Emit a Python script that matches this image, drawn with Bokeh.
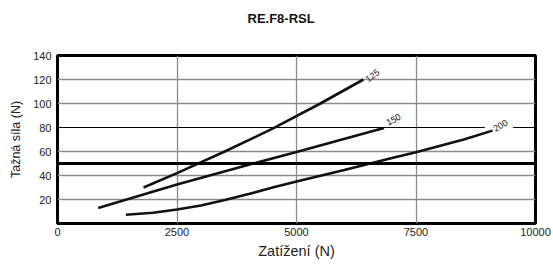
import math
from bokeh.plotting import figure
from bokeh.models import Span, Label, FixedTicker, Range1d, Title
from bokeh.embed import file_html
from bokeh.resources import INLINE

# ---- data ----
x_125 = [1800, 2500, 3500, 4500, 5500, 6400]
y_125 = [30, 42, 60, 79, 100, 120]

x_150 = [850, 2500, 4000, 5000, 6830]
y_150 = [13, 32.5, 49, 59.5, 79.5]

x_200 = [1430, 2000, 2500, 3000, 3500, 4000, 4500, 5000, 6000, 7000, 7500, 8500, 9100]
y_200 = [7.3, 9, 11.7, 15, 19.5, 24.5, 30, 35, 44.5, 54.5, 59.3, 70, 77.4]

curve_names = ["125", "150", "200"]
label_x = [6590, 7030, 9268]
label_y = [123.3, 86.6, 81.6]
label_angle_deg = [36, 27, 30]

x_ticks = [0, 2500, 5000, 7500, 10000]
y_ticks = [20, 40, 60, 80, 100, 120, 140]
x_grid = [2500, 5000, 7500]
y_grid = [20, 40, 60, 100, 120]
dark_line = 80
limit_line = 50

title_text = "RE.F8-RSL"
x_label = "Zatížení (N)"
y_label = "Tažná síla (N)"

FONT = "Liberation Sans"

p = figure(title=None, frame_width=478, frame_height=168, output_backend="svg",
           toolbar_location=None,
           x_range=Range1d(0, 10000), y_range=Range1d(0, 140),
           min_border_left=57, min_border_right=18, min_border_top=55,
           min_border_bottom=42)
p.background_fill_color = "white"
p.border_fill_color = "white"
p.outline_line_color = "black"
p.outline_line_width = 3

# spacer next to the frame, then the visible title above it
p.add_layout(Title(text=" ", text_font_size="1px", standoff=26), "above")
p.add_layout(Title(text=title_text, align="left", offset=190, standoff=2,
                   vertical_align="bottom", text_font=FONT,
                   text_font_size="13px", text_font_style="bold",
                   text_color="#111111"), "above")

p.xaxis.ticker = FixedTicker(ticks=x_ticks)
p.yaxis.ticker = FixedTicker(ticks=y_ticks)
for ax in (p.xaxis, p.yaxis):
    ax.axis_line_color = None
    ax.major_tick_line_color = None
    ax.minor_tick_line_color = None
    ax.major_tick_out = 0
    ax.major_tick_in = 0
    ax.major_label_text_font = FONT
    ax.major_label_text_font_size = "11px"
    ax.major_label_text_color = "#222222"
    ax.axis_label_text_font = FONT
    ax.axis_label_text_font_style = "normal"
    ax.axis_label_text_color = "#222222"
p.xaxis.major_label_standoff = 4
p.yaxis.major_label_standoff = 6
p.yaxis.axis_label = y_label
p.yaxis.axis_label_text_font_size = "12.5px"
p.yaxis.axis_label_standoff = 7
p.xaxis.axis_label = x_label
p.xaxis.axis_label_text_font_size = "14.5px"
p.xaxis.axis_label_standoff = 4

p.xgrid.ticker = FixedTicker(ticks=x_grid)
p.ygrid.ticker = FixedTicker(ticks=y_grid)
p.grid.grid_line_color = "#8a8a8a"
p.grid.grid_line_width = 1.3

# dark line at 80 with a gap under the "200" label
gap_c = label_x[2]
p.segment(x0=[0, gap_c + 260], y0=[dark_line, dark_line],
          x1=[gap_c - 330, 10000], y1=[dark_line, dark_line],
          line_color="black", line_width=1.2)

p.add_layout(Span(location=limit_line, dimension="width",
                  line_color="black", line_width=3))

for xs, ys in ((x_125, y_125), (x_150, y_150), (x_200, y_200)):
    p.line(xs, ys, line_color="#111111", line_width=2.6)

for name, lx, ly, ang in zip(curve_names, label_x, label_y, label_angle_deg):
    p.add_layout(Label(x=lx, y=ly, text=name, angle=math.radians(ang),
                       text_align="center", text_baseline="middle",
                       text_font=FONT, text_font_size="9px",
                       text_color="#111111"))

open("out.html", "w").write(file_html(p, INLINE))
